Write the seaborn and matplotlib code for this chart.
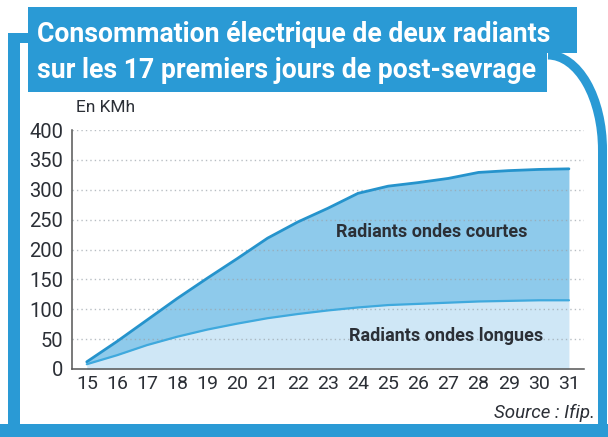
import numpy as np
import pandas as pd
import matplotlib.pyplot as plt
import matplotlib.patches as mpatches
import seaborn as sns

days = list(range(15, 32))
courtes = [12, 46, 82, 118, 152, 185, 219, 246, 269, 294, 306, 312, 319, 329, 332, 334, 335]
longues = [8, 23, 40, 54, 66, 76, 85, 92, 98, 103, 107, 109, 111, 113, 114, 115, 115]
series_names = ["Radiants ondes courtes", "Radiants ondes longues"]
y_ticks = list(range(0, 401, 50))

BLUE = "#2a9ad5"
FILL_HI = "#8ecaeb"
FILL_LO = "#cfe7f6"
LINE_HI = "#2593cc"
LINE_LO = "#3fa9dd"
DARK = "#2b2f36"

sns.set_style("white")
plt.rcParams["font.family"] = ["Roboto", "DejaVu Sans"]

df = pd.DataFrame({
    "jour": days * 2,
    "kwh": courtes + longues,
    "serie": [series_names[0]] * len(days) + [series_names[1]] * len(days),
})

W, H = 608, 437
fig = plt.figure(figsize=(W / 100, H / 100), dpi=100)

# background layer in pixel coords for the frame and texts
bg = fig.add_axes([0, 0, 1, 1], zorder=0)
bg.set_xlim(0, W)
bg.set_ylim(H, 0)
bg.axis("off")

# frame
bg.add_patch(mpatches.Rectangle((8, 33), 12, H - 33, color=BLUE, lw=0))
bg.add_patch(mpatches.Rectangle((8, 33), 22, 10, color=BLUE, lw=0))
bg.add_patch(mpatches.Rectangle((0, 424), W, 13, color=BLUE, lw=0))
bg.add_patch(mpatches.Rectangle((598, 148), 9, H - 148, color=BLUE, lw=0))
bg.add_patch(mpatches.Arc((548, 150), 2 * 54.5, 2 * 95, theta1=270, theta2=360,
                          color=BLUE, lw=6.5))
title_box = [(28, 7), (577, 7), (577, 53), (547, 53), (547, 92), (28, 92)]
bg.add_patch(mpatches.Polygon(title_box, closed=True, color=BLUE, lw=0))

bg.text(37, 34, "Consommation électrique de deux radiants", color="white",
        fontsize=19.2, fontweight="bold", ha="left", va="center")
bg.text(37, 70, "sur les 17 premiers jours de post-sevrage", color="white",
        fontsize=19.2, fontweight="bold", ha="left", va="center")
bg.text(76, 108, "En KMh", color=DARK, fontsize=12.5, ha="left", va="center")
bg.text(595, 413, "Source : Ifip.", color=DARK, fontsize=13.5, style="italic",
        ha="right", va="center")

# main chart
ax = fig.add_axes([71.7 / W, 1 - 369 / H, (584 - 71.7) / W, (369 - 130) / H], zorder=1)
ax.patch.set_alpha(0)

ax.fill_between(days, 0, longues, color=FILL_LO, lw=0, zorder=1)
ax.fill_between(days, longues, courtes, color=FILL_HI, lw=0, zorder=1)
for yv in y_ticks[1:]:
    ax.axhline(yv, color="#9aa3aa", lw=1.0, ls=(0, (1, 2.2)), alpha=0.7, zorder=2)

sns.lineplot(data=df, x="jour", y="kwh", hue="serie", ax=ax,
             palette={series_names[0]: LINE_HI, series_names[1]: LINE_LO},
             legend=False, zorder=3)
for line, lw in zip(ax.lines[-2:], [2.0, 1.6]):
    line.set_linewidth(lw)

ax.text(432, 232, series_names[0], transform=bg.transData, color=DARK,
        fontsize=13, fontweight="bold", ha="center", va="center", zorder=4)
ax.text(446, 336, series_names[1], transform=bg.transData, color=DARK,
        fontsize=13, fontweight="bold", ha="center", va="center", zorder=4)

ax.set_xlim(14.5, 31.5)
ax.set_ylim(0, 400)
ax.set_xticks(days)
ax.set_xticks(np.arange(14.5, 32, 1.0), minor=True)
ax.set_yticks(y_ticks)
ax.tick_params(axis="x", which="major", length=0, labelsize=14, colors=DARK, pad=4)
ax.tick_params(axis="x", which="minor", length=5, width=1, color="#555555", direction="out")
ax.tick_params(axis="y", which="major", length=4, width=1, color="#555555",
               labelsize=14.5, colors=DARK, pad=2)
ax.set_xlabel("")
ax.set_ylabel("")
sns.despine(ax=ax, top=True, right=True)
for side in ["left", "bottom"]:
    ax.spines[side].set_color("#555555")
    ax.spines[side].set_linewidth(1.1)

fig.savefig("out.png", dpi=100)
